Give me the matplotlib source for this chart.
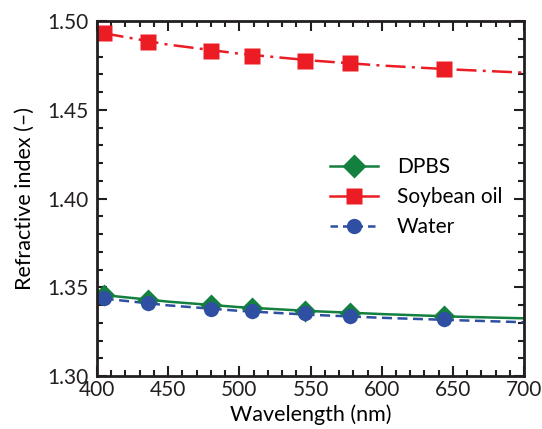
import matplotlib
matplotlib.use("Agg")
import matplotlib.pyplot as plt
from matplotlib.ticker import MultipleLocator, FormatStrFormatter

plt.rcParams['font.family'] = ['Lato', 'DejaVu Sans']

# measured refractive indices
wavelength = [404.7, 435.8, 480.0, 508.6, 546.1, 578.0, 643.8]
n_dpbs = [1.3456, 1.3429, 1.3399, 1.3384, 1.3367, 1.3356, 1.3337]
n_soy = [1.4931, 1.4883, 1.4833, 1.4805, 1.4776, 1.4762, 1.4728]
n_water = [1.3438, 1.3410, 1.3376, 1.3366, 1.3353, 1.3340, 1.3319]

# dispersion fit curves
fit_wl = [404.7, 450, 500, 550, 600, 650, 700]
fit_dpbs = [1.3456, 1.3419, 1.3388, 1.3366, 1.3349, 1.3335, 1.3325]
fit_soy = [1.4931, 1.4867, 1.4816, 1.4778, 1.4749, 1.4727, 1.4709]
fit_water = [1.3436, 1.3398, 1.3367, 1.3345, 1.3328, 1.3315, 1.3303]

green = '#13803f'
red = '#ec1c24'
blue = '#2f4fa2'
dark = '#231f20'

fig = plt.figure(figsize=(5.42, 4.29), dpi=100)
ax = fig.add_axes([0.179, 0.1235, 0.788, 0.8275])

soy_dash = (8, 2.5, 1.2, 2.5)
water_dash = (4, 2.2)

ax.plot(fit_wl, fit_dpbs, '-', color=green, lw=1.8)
ax.plot(fit_wl, fit_soy, '-.', color=red, lw=1.8, dashes=soy_dash)
ax.plot(fit_wl, fit_water, '--', color=blue, lw=1.8, dashes=water_dash)

ax.plot(wavelength, n_dpbs, 'D', color=green, ms=11.5, mec='none')
ax.plot(wavelength, n_soy, 's', color=red, ms=11, mec='none')
ax.plot(wavelength, n_water, 'o', color=blue, ms=11, mec='none')

# legend proxies combine line style and marker
h1, = ax.plot([], [], '-', color=green, lw=1.8, marker='D', ms=12, mec='none')
h2, = ax.plot([], [], '-', color=red, lw=1.8, marker='s', ms=11, mec='none')
h3, = ax.plot([], [], '--', color=blue, lw=1.8, marker='o', ms=11, mec='none',
              dashes=(3, 2))
ax.legend([h1, h2, h3], ['DPBS', 'Soybean oil', 'Water'],
          loc='center left', bbox_to_anchor=(0.546, 0.504),
          frameon=False, fontsize=15, handlelength=2.3, labelspacing=0.47,
          handletextpad=0.9, borderpad=0, borderaxespad=0)

ax.set_xlim(400, 700)
ax.set_ylim(1.30, 1.50)
ax.xaxis.set_major_locator(MultipleLocator(50))
ax.xaxis.set_minor_locator(MultipleLocator(10))
ax.yaxis.set_major_locator(MultipleLocator(0.05))
ax.yaxis.set_minor_locator(MultipleLocator(0.01))
ax.yaxis.set_major_formatter(FormatStrFormatter('%.2f'))

ax.tick_params(which='both', direction='in', top=True, right=True, colors=dark,
               labelsize=15, width=1.5)
ax.tick_params(which='major', length=7)
ax.tick_params(which='minor', length=4)
ax.tick_params(axis='y', pad=6)
ax.tick_params(axis='x', pad=3)
for s in ax.spines.values():
    s.set_linewidth(2)
    s.set_color(dark)

ax.set_xlabel('Wavelength (nm)', fontsize=15.5, labelpad=3)
ax.set_ylabel('Refractive index (–)', fontsize=15.5, labelpad=9)

fig.savefig('out.png', dpi=100)
